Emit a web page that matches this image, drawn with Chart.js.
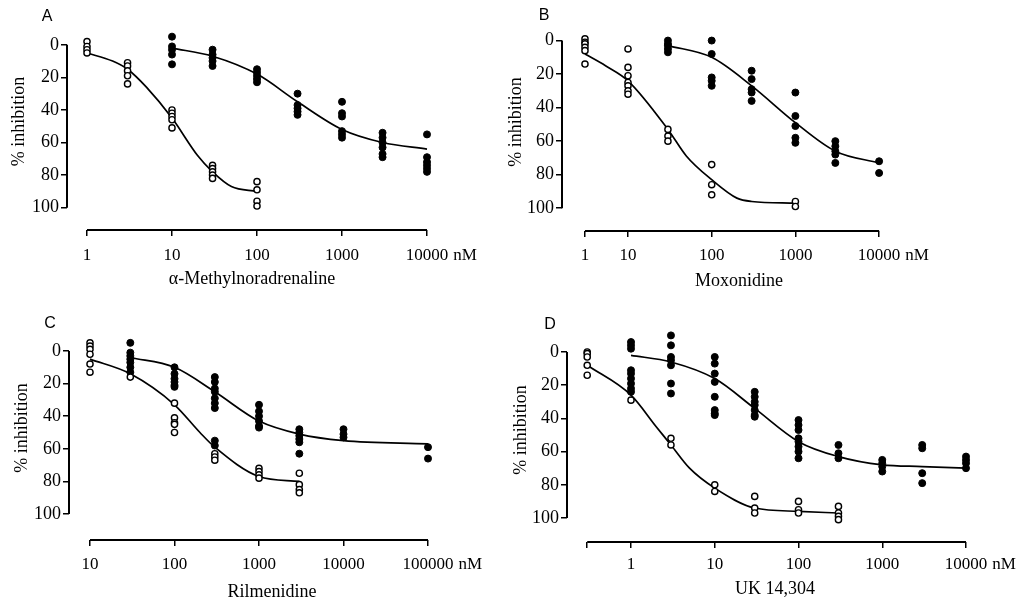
<!DOCTYPE html>
<html>
<head>
<meta charset="utf-8">
<script src="https://cdn.jsdelivr.net/npm/chart.js@4.4.0/dist/chart.umd.min.js"></script>
<style>
  html, body { margin: 0; padding: 0; background: #fff; }
  #wrap { position: relative; width: 1032px; height: 601px; overflow: hidden; }
  #wrap canvas { position: absolute; }
</style>
</head>
<body>
<div id="wrap">
  <canvas id="chartA"></canvas>
  <canvas id="chartB"></canvas>
  <canvas id="chartC"></canvas>
  <canvas id="chartD"></canvas>
</div>
<script>
// ---- A: alpha-methylnoradrenaline ----
const aTicks = [1, 10, 100, 1000, 10000];
const aTickLabels = ["1", "10", "100", "1000", "10000"];
const aOpenConc = [1, 3, 10, 30, 100];
const aOpenInhib = [[-2, 1, 3, 5], [11, 13, 16, 19, 24], [40, 42, 44, 46, 51], [74, 76, 78, 80, 82], [84, 89, 96, 99]];
const aFillConc = [10, 30, 100, 300, 1000, 3000, 10000];
const aFillInhib = [[-5, 1, 3, 6, 12], [3, 6, 8, 10, 13], [15, 17, 19, 21, 23], [30, 37, 39, 41, 43],
  [35, 42, 44, 53, 55, 57], [54, 57, 60, 63, 67, 69], [55, 69, 72, 74, 76, 78]];
const aOpenFitConc = [1, 2, 3, 5, 10, 20, 30, 50, 100];
const aOpenFit = [5, 10, 15, 26, 45, 68, 78, 87, 90];
const aFillFitConc = [10, 30, 100, 300, 1000, 3000, 10000];
const aFillFit = [2, 7, 18, 35, 52, 60, 64];

// ---- B: moxonidine ----
const bTicks = [1, 10, 100, 1000, 10000];
const bTickLabels = ["1", "10", "100", "1000", "10000"];
const bOpenConc = [1, 10, 30, 100, 1000];
const bOpenInhib = [[-1, 1, 2, 4, 6, 14], [5, 16, 21, 25, 27, 30, 32], [53, 57, 60], [74, 86, 92], [96, 99]];
const bFillConc = [30, 100, 300, 1000, 3000, 10000];
const bFillInhib = [[0, 2, 3, 5, 7], [0, 8, 22, 24, 27], [18, 23, 29, 31, 36], [31, 45, 51, 58, 61],
  [60, 63, 66, 68, 73], [72, 79]];
const bOpenFitConc = [1, 3, 10, 30, 50, 100, 200, 300, 1000];
const bOpenFit = [8, 15, 24, 53, 69, 83, 94, 96, 97];
const bFillFitConc = [30, 100, 300, 1000, 3000, 10000];
const bFillFit = [3, 10, 27, 49, 66, 73];

// ---- C: rilmenidine ----
const cTicks = [10, 100, 1000, 10000, 100000];
const cTickLabels = ["10", "100", "1000", "10000", "100000"];
const cOpenConc = [10, 30, 100, 300, 1000, 3000];
const cOpenInhib = [[-5, -3, -1, 2, 8, 13], [16], [32, 41, 44, 45, 50], [63, 65, 67], [72, 74, 76, 78], [75, 82, 85, 87]];
const cFillConc = [30, 100, 300, 1000, 3000, 10000, 100000];
const cFillInhib = [[-5, 1, 3, 5, 7, 10, 13], [10, 14, 17, 19, 21, 22], [16, 19, 23, 25, 29, 32, 35, 55, 58],
  [33, 37, 40, 43, 46, 47], [48, 50, 52, 54, 56, 63], [48, 51, 53], [59, 66]];
const cOpenFitConc = [10, 30, 100, 200, 300, 1000, 3000];
const cOpenFit = [5, 14, 33, 50, 59, 77, 80];
const cFillFitConc = [30, 100, 300, 1000, 3000, 10000, 100000];
const cFillFit = [4, 10, 25, 43, 51, 55, 57];

// ---- D: UK 14,304 ----
const dTicks = [0.3, 1, 10, 100, 1000, 10000];
const dTickLabels = ["", "1", "10", "100", "1000", "10000"];
const dOpenConc = [0.3, 1, 3, 10, 30, 100, 300];
const dOpenInhib = [[0, 1, 3, 8, 14], [29], [52, 56], [80, 84], [87, 94, 97], [90, 95, 97], [93, 97, 99, 101]];
const dFillConc = [1, 3, 10, 30, 100, 300, 1000, 3000, 10000];
const dFillInhib = [[-6, -4, -2, 11, 13, 16, 19, 22, 24], [-10, -4, 3, 5, 8, 19, 25], [3, 7, 13, 18, 27, 35, 37, 38],
  [24, 27, 30, 32, 35, 38, 39], [41, 44, 47, 52, 54, 57, 60, 64], [56, 61, 64], [65, 67, 69, 72],
  [56, 58, 73, 79], [63, 65, 67, 70]];
const dOpenFitConc = [0.3, 1, 2, 3, 5, 10, 30, 100, 300];
const dOpenFit = [8, 26, 45, 56, 70, 82, 94, 96, 97];
const dFillFitConc = [1, 3, 10, 30, 100, 300, 1000, 3000, 10000];
const dFillFit = [2, 6, 16, 34, 54, 63, 68, 69, 70];

const yTicks = [0, 20, 40, 60, 80, 100];

Chart.defaults.font.family = "'Liberation Serif', 'Times New Roman', serif";
Chart.defaults.color = "#000";

// x axis is in decades; panel B has its first decade squeezed
const logPos = c => Math.log10(c);
const moxPos = c => (c >= 10 ? Math.log10(c) : 1 - (1 - Math.log10(c)) * 0.514);

function spread(conc, vals, pos) {
  const pts = [];
  conc.forEach((c, i) => vals[i].forEach(v => pts.push({ x: pos(c), y: v })));
  return pts;
}
function fit(conc, vals, pos) {
  return conc.map((c, i) => ({ x: pos(c), y: vals[i] }));
}

const deco = {
  id: "deco",
  afterDraw(chart, args, o) {
    const { ctx, chartArea, scales: { x, y } } = chart;
    ctx.save();
    ctx.strokeStyle = "#000";
    ctx.lineWidth = 2;
    ctx.beginPath();
    ctx.moveTo(chartArea.left, y.getPixelForValue(0));
    ctx.lineTo(chartArea.left, y.getPixelForValue(100));
    const first = x.ticks[0], last = x.ticks[x.ticks.length - 1];
    ctx.moveTo(x.getPixelForValue(first.value), chartArea.bottom);
    ctx.lineTo(x.getPixelForValue(last.value), chartArea.bottom);
    ctx.stroke();

    ctx.fillStyle = "#000";
    ctx.textBaseline = "middle";
    ctx.textAlign = "left";
    ctx.font = "17px 'Liberation Serif'";
    const lx = x.getPixelForValue(last.value) + ctx.measureText(last.label).width / 2 + 5;
    const ly = x.top + x.options.grid.tickLength + x.options.ticks.padding + 10.2;
    ctx.fillText(o.unit, lx, ly);

    ctx.font = "16px 'Liberation Sans'";
    ctx.textAlign = "center";
    ctx.fillText(o.letter, o.letterX, o.letterY);
    ctx.restore();
  }
};

const panels = [
  { id: "chartA", box: [0, 0, 490, 300], letter: "A", letterAt: [47, 17], title: "\u03b1-Methylnoradrenaline",
    pos: logPos, ticks: aTicks, tickLabels: aTickLabels,
    open: [aOpenConc, aOpenInhib], fill: [aFillConc, aFillInhib],
    openFit: [aOpenFitConc, aOpenFit], fillFit: [aFillFitConc, aFillFit],
    axisX: 67, top: 6, y0: 39, y100: 207, xLine: 230, refPos: 0, refPx: 87, ppd: 85, right: 437,
    labelCy: 256, titleCy: 279, yTitleCx: 19 },
  { id: "chartB", box: [490, 0, 542, 300], letter: "B", letterAt: [544, 16], title: "Moxonidine",
    pos: moxPos, ticks: bTicks, tickLabels: bTickLabels,
    open: [bOpenConc, bOpenInhib], fill: [bFillConc, bFillInhib],
    openFit: [bOpenFitConc, bOpenFit], fillFit: [bFillFitConc, bFillFit],
    axisX: 562, top: 11, y0: 39, y100: 208, xLine: 231, refPos: 1, refPx: 628, ppd: 83.7, right: 916,
    labelCy: 256, titleCy: 281, yTitleCx: 516 },
  { id: "chartC", box: [0, 300, 490, 310], letter: "C", letterAt: [50, 324], title: "Rilmenidine",
    pos: logPos, ticks: cTicks, tickLabels: cTickLabels,
    open: [cOpenConc, cOpenInhib], fill: [cFillConc, cFillInhib],
    openFit: [cOpenFitConc, cOpenFit], fillFit: [cFillFitConc, cFillFit],
    axisX: 69, top: 316, y0: 351, y100: 514, xLine: 540, refPos: 1, refPx: 90, ppd: 84.5, right: 475,
    labelCy: 565, titleCy: 592, yTitleCx: 22 },
  { id: "chartD", box: [490, 300, 542, 310], letter: "D", letterAt: [550, 325], title: "UK 14,304",
    pos: logPos, ticks: dTicks, tickLabels: dTickLabels,
    open: [dOpenConc, dOpenInhib], fill: [dFillConc, dFillInhib],
    openFit: [dOpenFitConc, dOpenFit], fillFit: [dFillFitConc, dFillFit],
    axisX: 567, top: 318, y0: 352, y100: 518, xLine: 542, refPos: 0, refPx: 631, ppd: 83.75, right: 983,
    labelCy: 565, titleCy: 589, yTitleCx: 521 }
];

function drawPanel(p) {
  const [bx, by, bw, bh] = p.box;
  const cv = document.getElementById(p.id);
  cv.width = bw; cv.height = bh;
  cv.style.left = bx + "px"; cv.style.top = by + "px";

  const ppu = (p.y100 - p.y0) / 100;
  const yMin = -(p.y0 - p.top) / ppu;
  const yMax = 100 + (p.xLine - p.y100) / ppu;
  const xMin = p.refPos - (p.refPx - p.axisX) / p.ppd;
  const xMax = p.refPos + (p.right - p.refPx) / p.ppd;
  const tickLen = 6;

  const pointSet = (data, filled) => ({
    data,
    pointRadius: filled ? 3.5 : 3.1,
    pointBorderWidth: filled ? 1 : 1.4,
    pointBorderColor: "#000",
    pointBackgroundColor: filled ? "#000" : "#fff",
    showLine: false,
    clip: false
  });
  const lineSet = data => ({
    data,
    showLine: true,
    borderColor: "#000",
    borderWidth: 1.7,
    pointRadius: 0,
    cubicInterpolationMode: "monotone",
    fill: false
  });

  new Chart(cv.getContext("2d"), {
    type: "scatter",
    data: {
      datasets: [
        pointSet(spread(p.open[0], p.open[1], p.pos), false),
        pointSet(spread(p.fill[0], p.fill[1], p.pos), true),
        lineSet(fit(p.openFit[0], p.openFit[1], p.pos)),
        lineSet(fit(p.fillFit[0], p.fillFit[1], p.pos))
      ]
    },
    options: {
      responsive: false,
      animation: false,
      events: [],
      layout: { padding: { top: p.top - by, right: bx + bw - p.right, bottom: 0, left: 0 } },
      plugins: {
        legend: { display: false },
        tooltip: { enabled: false },
        deco: { unit: "nM", letter: p.letter, letterX: p.letterAt[0] - bx, letterY: p.letterAt[1] - by }
      },
      scales: {
        x: {
          type: "linear",
          min: xMin,
          max: xMax,
          border: { display: false },
          grid: { drawOnChartArea: false, drawTicks: true, tickLength: tickLen, color: "#000", lineWidth: 1.5 },
          ticks: {
            autoSkip: false,
            maxRotation: 0,
            font: { size: 17 },
            padding: p.labelCy - p.xLine - tickLen - 10.2,
            callback: (v, i) => p.tickLabels[i]
          },
          afterBuildTicks: s => { s.ticks = p.ticks.map(c => ({ value: p.pos(c) })); },
          afterFit: s => { s.height = by + bh - p.xLine; },
          title: {
            display: true,
            text: p.title,
            font: { size: 18 },
            padding: { top: 0, bottom: by + bh - p.titleCy - 10.8 }
          }
        },
        y: {
          type: "linear",
          reverse: true,
          min: yMin,
          max: yMax,
          border: { display: false },
          grid: { drawOnChartArea: false, drawTicks: true, tickLength: tickLen, color: "#000", lineWidth: 1.5 },
          ticks: { font: { size: 18 }, padding: 2, callback: v => String(v) },
          afterBuildTicks: s => { s.ticks = yTicks.map(v => ({ value: v })); },
          afterFit: s => { s.width = p.axisX - bx; },
          title: {
            display: true,
            text: "% inhibition",
            font: { size: 18 },
            padding: { top: p.yTitleCx - bx - 10.8, bottom: 0 }
          }
        }
      }
    },
    plugins: [deco]
  });
}

panels.forEach(drawPanel);
</script>
</body>
</html>
